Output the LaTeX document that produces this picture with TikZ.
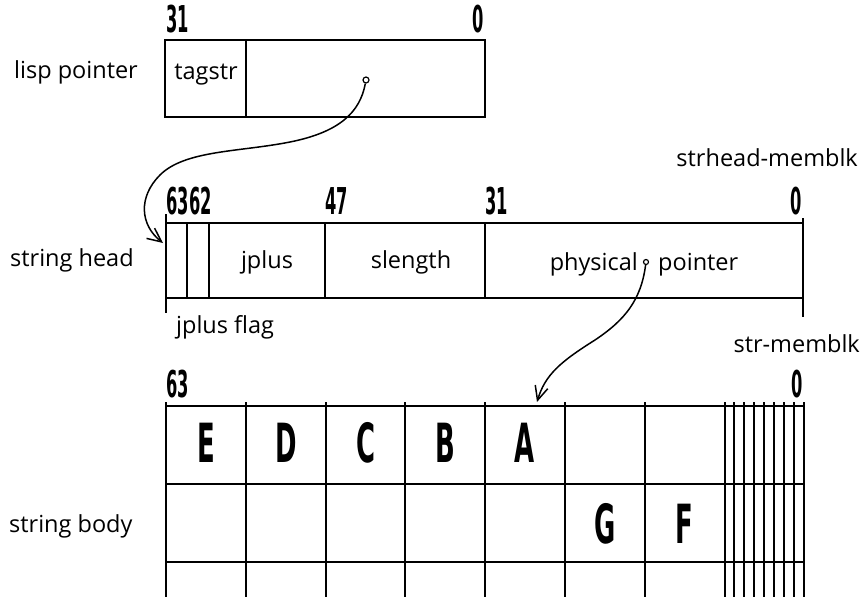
\documentclass[tikz,border=0pt]{standalone}
\usepackage{fontspec}
\setmainfont{Open Sans}
\newfontfamily\numfont{DejaVu Sans}
\usetikzlibrary{arrows.meta}

% condensed bit numbers and condensed bold characters
\newcommand\bitno[1]{\scalebox{0.44}[1]{\numfont\bfseries\fontsize{37}{37}\selectfont #1}}
\newcommand\bigch[1]{\scalebox{0.48}[1]{\numfont\bfseries\fontsize{54}{54}\selectfont #1}}

\begin{document}
\begin{tikzpicture}[x=1pt,y=-1pt,
  rule/.style={line width=2pt, black},
  thin rule/.style={line width=1.5pt, black},
  lbl/.style={inner sep=0pt, font=\fontsize{23.5}{23.5}\selectfont},
  num/.style={inner sep=0pt},
  chr/.style={inner sep=0pt},
  ptr/.style={line width=1.5pt, -{Straight Barb[length=14pt,width=13pt,line width=1.5pt]}},
  pdot/.style={circle, draw, line width=1.2pt, inner sep=0pt, minimum size=6pt, fill=white}]
\useasboundingbox (0,0) rectangle (864,597);

% ---------- lisp pointer (32 bits) ----------
\draw[rule] (165,40) rectangle (485,117);
\draw[rule] (246,40) -- (246,117);
\node[num, anchor=south west] (lp31) at (166,33) {\bitno{31}};
\node[num, anchor=south east] (lp0) at (484,33) {\bitno{0}};
\node[lbl, anchor=base west] (lisplbl) at (14,78) {lisp pointer};
\node[lbl, anchor=base] (tagstr) at (206,79) {tagstr};
\node[pdot] (lpdot) at (366,80) {};

% ---------- string head (64 bits) ----------
\draw[rule] (166,223) -- (803,223);
\draw[rule] (166,298) -- (803,298);
\draw[rule] (166,214) -- (166,313);
\draw[rule] (803,218) -- (803,317);
\foreach \x in {187,209,325,485} \draw[rule] (\x,223) -- (\x,298);
\node[num, anchor=south west] (sh63) at (166,215) {\bitno{63}};
\node[num, anchor=south west] (sh62) at (189,215) {\bitno{62}};
\node[num, anchor=south west] (sh47) at (325,215) {\bitno{47}};
\node[num, anchor=south west] (sh31) at (485,215) {\bitno{31}};
\node[num, anchor=south east] (sh0) at (802,215) {\bitno{0}};
\node[lbl, anchor=base west] (headlbl) at (10,266) {string head};
\node[lbl, anchor=base] (jplus) at (267,268) {jplus};
\node[lbl, anchor=base] (slength) at (411,268) {slength};
\node[lbl, anchor=base east] (physical) at (638,270) {physical};
\node[lbl, anchor=base west] (pointer) at (658,270) {pointer};
\node[pdot, minimum size=5pt] (shdot) at (646,262) {};
\node[lbl, anchor=base west] (flaglbl) at (176,333) {jplus flag};
\node[lbl, anchor=base east] (shmem) at (858,166) {strhead-memblk};
\node[lbl, anchor=base east] (strmem) at (860,352) {str-memblk};

% ---------- string body ----------
\foreach \y in {406,484,562} \draw[rule] (166,\y) -- (804,\y);
\foreach \x in {166,246,326,405,485,565,645} \draw[rule] (\x,402) -- (\x,597);
\foreach \x in {725,734,744,754,764,774,784,794,804} \draw[thin rule] (\x,402) -- (\x,597);
\node[num, anchor=south west] (sb63) at (166,398) {\bitno{63}};
\node[num, anchor=south east] (sb0) at (803,398) {\bitno{0}};
\node[lbl, anchor=base west] (bodylbl) at (9,532) {string body};
\node[chr] (chE) at (206,443) {\bigch{E}};
\node[chr] (chD) at (286,443) {\bigch{D}};
\node[chr] (chC) at (366,443) {\bigch{C}};
\node[chr] (chB) at (445,443) {\bigch{B}};
\node[chr] (chA) at (525,443) {\bigch{A}};
\node[chr] (chG) at (605,524) {\bigch{G}};
\node[chr] (chF) at (684,524) {\bigch{F}};

% ---------- pointers ----------
\coordinate (headtip) at (163,243);
\coordinate (bodytip) at (537,402);
\draw[ptr] (lpdot) .. controls (360,112) and (340,132) .. (290,142)
  .. controls (240,152) and (185,150) .. (160,175)
  .. controls (138,197) and (140,225) .. (headtip);
\draw[ptr] (shdot) .. controls (641,300) and (625,320) .. (595,340)
  .. controls (560,362) and (545,375) .. (bodytip);
\end{tikzpicture}
\end{document}
